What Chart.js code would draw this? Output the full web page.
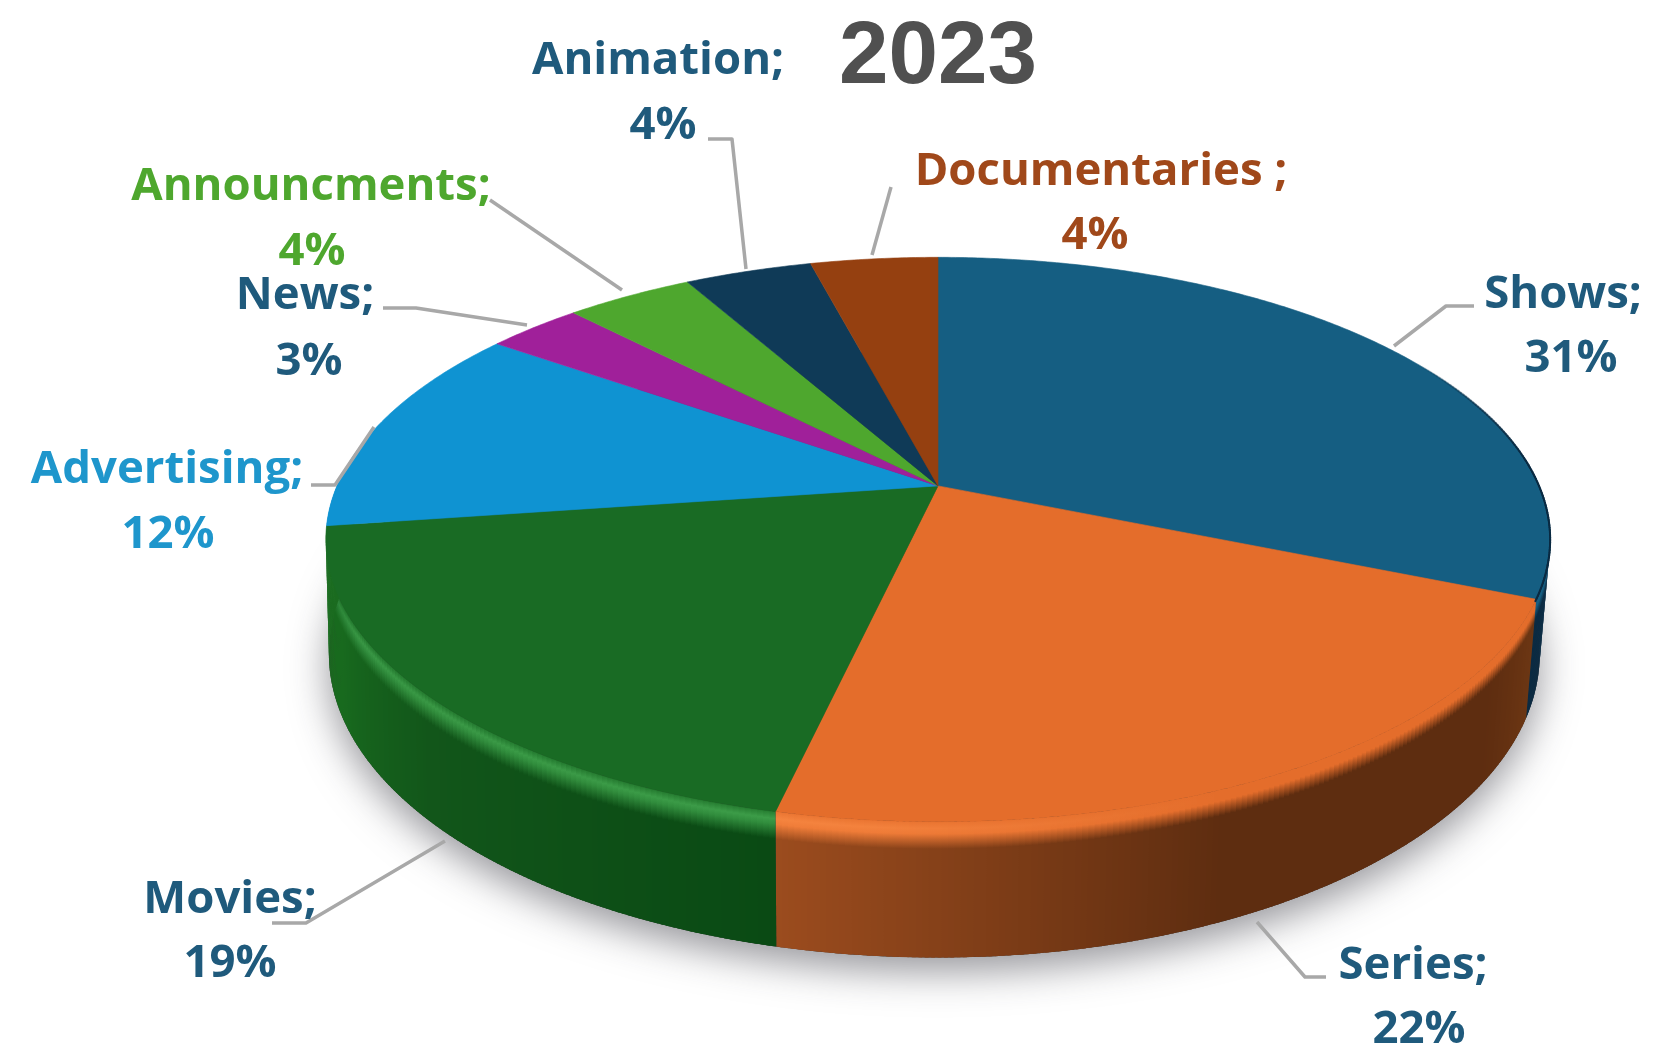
<!DOCTYPE html>
<html>
<head>
<meta charset="utf-8">
<script src="https://cdn.jsdelivr.net/npm/chart.js@4/dist/chart.umd.js"></script>
<style>html,body{margin:0;padding:0;background:#fff}canvas{display:block;filter:blur(.7px)}</style>
</head>
<body>
<canvas id="c" width="1653" height="1050"></canvas>
<script>
// ---- data ----
const categories = ['Shows','Series','Movies','Advertising','News','Announcments','Animation','Documentaries '];
const shares = [31,22,19,12,3,4,4,4];
const chartTitle = '2023';

// ---- styles ----
const topColors = ['#155E82','#E46D2B','#196B24','#0F93D2','#A0209A','#4EA72E','#0F3A57','#954010'];
const textColors = ['#1F5A7C','#1F5A7C','#1F5A7C','#1E96CC','#1F5A7C','#4EA72E','#1F5A7C','#A0481A'];
// wall colour stops through each slice: [fraction, colour]
const wallStops = [
  [[0,'#0C2F49'],[1,'#0A2A42']],
  [[0,'#6C3613'],[.15,'#5E2D10'],[.55,'#5E2D10'],[1,'#9C4C1E']],
  [[0,'#0A4A14'],[.5,'#12561A'],[.78,'#186A1E'],[1,'#1A6B1F']],
  [[0,'#1A6B1F'],[1,'#1A6B1F']],[[0,'#701468'],[1,'#701468']],[[0,'#357520'],[1,'#357520']],[[0,'#0A2A42'],[1,'#0A2A42']],[[0,'#6A2C0A'],[1,'#6A2C0A']]
];
const rimHighlights = [null,[[0,0],[.55,0],[.9,.9],[1,1]],[[0,1],[.7,.9],[.86,.35],[.94,0],[1,0]],null,null,null,null,null];
const rimColors = ['#155E82','#F5843F','#3C9C48','#0F93D2','#A0209A','#4EA72E','#0F3A57','#954010'];

// ---- layout (perspective of the disc and label placement, px) ----
const persp = {a:601, b:272, k:.19, depth:110, shrinkL:.995, shrinkR:.983};
const labelPos = [
  [[1563,295],[1571,359]],
  [[1413,966],[1419,1030]],
  [[230,900],[230,964]],
  [[167,470],[168,535]],
  [[305,296],[309,362]],
  [[311,187],[312,252]],
  [[658,61],[663,126]],
  [[1101,172],[1095,236]]
];
const leaders = [
  [[1394,346],[1446,306],[1474,306]],
  [[1257,922],[1305,977],[1326,977]],
  [[445,841],[306,923],[272,923]],
  [[374,427],[335,485],[311,485]],
  [[527,325],[416,308],[383,308]],
  [[622,290],[490,200]],
  [[746,269],[732,139],[708,139]],
  [[872,255],[891,187]]
];

function hex(c){return [1,3,5].map(i=>parseInt(c.substr(i,2),16));}
function mix(c1,c2,f){const a=hex(c1),b=hex(c2);return 'rgb('+a.map((v,i)=>Math.round(v+(b[i]-v)*f)).join(',')+')';}
function toHex(c){const m=c.match(/\d+/g).map(Number);return '#'+m.map(v=>v.toString(16).padStart(2,'0')).join('');}
function stopColor(stops,f){
  for(let i=1;i<stops.length;i++){ if(f<=stops[i][0]){const s=stops[i-1],e=stops[i];return toHex(mix(s[1],e[1],(f-s[0])/(e[0]-s[0]||1)));} }
  return stops[stops.length-1][1];
}
function stopNum(stops,f){
  for(let i=1;i<stops.length;i++){ if(f<=stops[i][0]){const s=stops[i-1],e=stops[i];return s[1]+(e[1]-s[1])*(f-s[0])/(e[0]-s[0]||1);} }
  return stops[stops.length-1][1];
}

const pie3d = {
  id:'pie3d',
  beforeDatasetsDraw(chart){
    const ctx=chart.ctx, arcs=chart.getDatasetMeta(0).data;
    const cx=arcs[0].x, cy=arcs[0].y, P=persp;
    const top=t=>{const x=Math.cos(t),y=Math.sin(t),w=1-P.k*y;return [cx+P.a*x/w,cy+P.b*y/w];};
    const bot=t=>{const x=Math.cos(t),y=Math.sin(t),w=1-P.k*y;return [cx+(x>0?P.shrinkR:P.shrinkL)*P.a*x/w,cy+P.b*y/w+P.depth/w];};
    const STEP=Math.PI/360, LO=-8*Math.PI/180, HI=186*Math.PI/180;

    // ground shadow
    ctx.save();
    ctx.shadowColor='rgba(50,50,60,.5)'; ctx.shadowBlur=38; ctx.shadowOffsetY=14;
    ctx.fillStyle='#333';
    ctx.beginPath();
    for(let t=0;t<Math.PI*2;t+=STEP){const p=bot(t); t===0?ctx.moveTo(p[0],p[1]):ctx.lineTo(p[0],p[1]);}
    ctx.closePath(); ctx.fill();
    ctx.restore();

    // side walls
    arcs.forEach((el,i)=>{
      const s=Math.max(el.startAngle,LO), e=Math.min(el.endAngle,HI);
      if(e<=s) return;
      for(let t=s;t<e;t+=STEP){
        const t2=Math.min(t+STEP*1.6,e);
        const f=(t-el.startAngle)/(el.endAngle-el.startAngle);
        const wall=stopColor(wallStops[i],f);
        const a=top(t),b=top(t2),c=bot(t2),d=bot(t);
        const g=ctx.createLinearGradient(a[0],a[1],d[0],d[1]);
        const h=rimHighlights[i]?stopNum(rimHighlights[i],f):0;
        const tc=topColors[i];
        g.addColorStop(0,mix(tc,rimColors[i],h*.4));
        g.addColorStop(.05,mix(tc,rimColors[i],h));
        g.addColorStop(.09,mix(tc,rimColors[i],h*.7));
        g.addColorStop(.2,wall);
        g.addColorStop(1,wall);
        ctx.fillStyle=g;
        ctx.beginPath();ctx.moveTo(a[0],a[1]);ctx.lineTo(b[0],b[1]);ctx.lineTo(c[0],c[1]);ctx.lineTo(d[0],d[1]);ctx.closePath();ctx.fill();
      }
    });

    // top face slices
    arcs.forEach((el,i)=>{
      ctx.fillStyle=topColors[i]; ctx.strokeStyle=topColors[i]; ctx.lineWidth=.6;
      ctx.beginPath(); ctx.moveTo(cx,cy);
      for(let t=el.startAngle;t<el.endAngle;t+=STEP){const p=top(t);ctx.lineTo(p[0],p[1]);}
      const p=top(el.endAngle);ctx.lineTo(p[0],p[1]);
      ctx.closePath(); ctx.fill(); ctx.stroke();
    });

    // dark edge along the right rim of the first slice
    ctx.save();
    ctx.lineWidth=2; ctx.lineCap='round';
    const edgeStart=-30*Math.PI/180;
    for(let t=edgeStart;t<arcs[0].endAngle;t+=STEP){
      const alpha=Math.min(1,(t-edgeStart)/(25*Math.PI/180));
      const p=top(t),q=top(t+STEP*1.2);
      ctx.strokeStyle='rgba(10,42,66,'+alpha+')';
      ctx.beginPath();ctx.moveTo(p[0],p[1]);ctx.lineTo(q[0],q[1]);ctx.stroke();
    }
    ctx.restore();
    return false;
  },
  afterDraw(chart){
    const ctx=chart.ctx;
    ctx.save();
    ctx.strokeStyle='#A8A8A8'; ctx.lineWidth=3.5; ctx.lineJoin='round';
    leaders.forEach(l=>{ctx.beginPath();l.forEach((p,i)=>i?ctx.lineTo(p[0],p[1]):ctx.moveTo(p[0],p[1]));ctx.stroke();});
    ctx.textAlign='center'; ctx.textBaseline='middle';
    ctx.font='700 45.5px "Open Sans"';
    categories.forEach((c,i)=>{
      ctx.fillStyle=textColors[i];
      ctx.fillText(c+';',labelPos[i][0][0],labelPos[i][0][1]);
      ctx.fillText(shares[i]+'%',labelPos[i][1][0],labelPos[i][1][1]);
    });
    ctx.restore();
  }
};

new Chart(document.getElementById('c'),{
  type:'pie',
  data:{labels:categories,datasets:[{data:shares,backgroundColor:topColors,borderWidth:0}]},
  options:{
    responsive:false,animation:false,
    layout:{padding:{left:223,right:0,top:0,bottom:190}},
    plugins:{
      legend:{display:false},tooltip:{enabled:false},
      title:{display:true,text:chartTitle,color:'#505050',
        font:{family:'"Liberation Sans"',size:89,weight:'700',lineHeight:1.2},padding:{top:5,bottom:0}}
    }
  },
  plugins:[pie3d]
});
</script>
</body>
</html>
